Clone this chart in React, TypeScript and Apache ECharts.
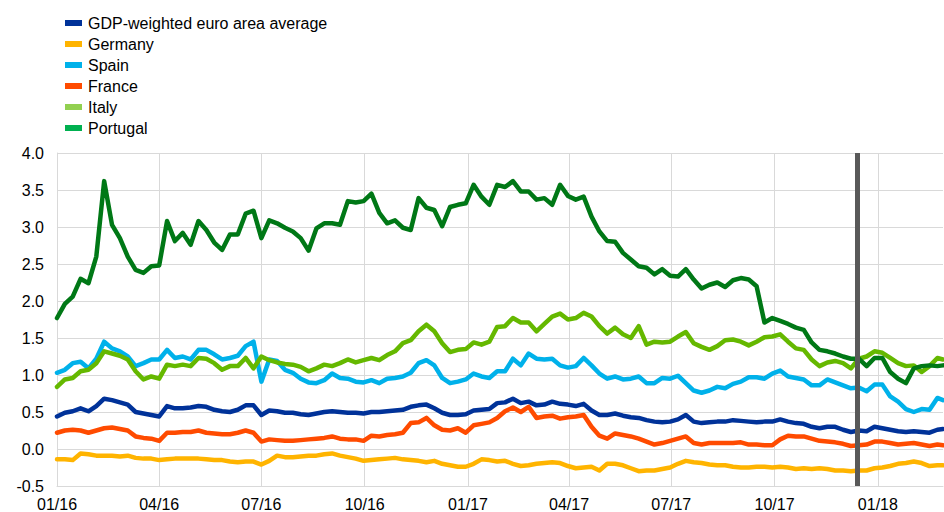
import { useEffect, useRef } from "react";
import * as echarts from "echarts";

// ---- data ----
const START = Date.UTC(2016, 0, 1);
const DAY = 86400000;
// weekly observation dates from 01/01/2016, plus the last observation
const dates: number[] = Array.from({ length: 113 }, (_, i) => START + i * 7 * DAY).concat([Date.UTC(2018, 1, 28)]);

const seriesNames = [
  "GDP-weighted euro area average",
  "Germany",
  "Spain",
  "France",
  "Italy",
  "Portugal",
];

const gdpWeighted = [
  0.44, 0.49, 0.51, 0.55, 0.51, 0.58, 0.68, 0.66, 0.63, 0.6, 0.5, 0.48, 0.46, 0.44, 0.58, 0.55, 0.55, 0.56, 0.58,
  0.57, 0.53, 0.51, 0.5, 0.53, 0.59, 0.59, 0.46, 0.52, 0.51, 0.49, 0.49, 0.47, 0.46, 0.48, 0.5, 0.51, 0.5, 0.49,
  0.49, 0.48, 0.5, 0.5, 0.51, 0.52, 0.53, 0.57, 0.59, 0.6, 0.55, 0.49, 0.46, 0.46, 0.47, 0.52, 0.53, 0.54, 0.62,
  0.63, 0.68, 0.62, 0.64, 0.59, 0.6, 0.64, 0.61, 0.6, 0.58, 0.61, 0.52, 0.46, 0.46, 0.48, 0.45, 0.43, 0.42, 0.39,
  0.37, 0.36, 0.37, 0.4, 0.46, 0.37, 0.35, 0.36, 0.37, 0.37, 0.39, 0.38, 0.37, 0.36, 0.37, 0.37, 0.4, 0.37, 0.35,
  0.34, 0.3, 0.28, 0.3, 0.3, 0.26, 0.23, 0.25, 0.24, 0.3, 0.28, 0.26, 0.24, 0.23, 0.24, 0.23, 0.22, 0.26, 0.27,
];

const germany = [
  -0.14, -0.14, -0.15, -0.06, -0.07, -0.09, -0.09, -0.09, -0.1, -0.09, -0.12, -0.13, -0.13, -0.15, -0.14, -0.13, -0.13, -0.13, -0.13,
  -0.14, -0.15, -0.15, -0.17, -0.18, -0.17, -0.17, -0.21, -0.16, -0.09, -0.11, -0.11, -0.1, -0.09, -0.09, -0.07, -0.06, -0.09, -0.11,
  -0.13, -0.16, -0.15, -0.14, -0.13, -0.12, -0.14, -0.15, -0.16, -0.18, -0.16, -0.2, -0.22, -0.24, -0.24, -0.2, -0.14, -0.15, -0.17,
  -0.16, -0.2, -0.23, -0.22, -0.2, -0.19, -0.18, -0.19, -0.23, -0.26, -0.25, -0.24, -0.29, -0.2, -0.2, -0.22, -0.26, -0.3, -0.29,
  -0.29, -0.27, -0.25, -0.2, -0.16, -0.18, -0.19, -0.21, -0.22, -0.22, -0.24, -0.25, -0.25, -0.24, -0.24, -0.25, -0.24, -0.25, -0.27,
  -0.26, -0.27, -0.26, -0.27, -0.29, -0.29, -0.3, -0.29, -0.29, -0.26, -0.25, -0.23, -0.2, -0.19, -0.17, -0.19, -0.23, -0.22, -0.22,
];

const spain = [
  1.03, 1.07, 1.16, 1.18, 1.09, 1.22, 1.45, 1.36, 1.32, 1.25, 1.12, 1.16, 1.21, 1.21, 1.34, 1.23, 1.25, 1.21, 1.34,
  1.34, 1.28, 1.21, 1.23, 1.26, 1.39, 1.45, 0.91, 1.21, 1.19, 1.07, 1.03, 0.95, 0.9, 0.89, 0.93, 1.02, 0.96, 0.95,
  0.91, 0.9, 0.93, 0.89, 0.95, 0.96, 0.98, 1.03, 1.16, 1.2, 1.13, 0.96, 0.89, 0.91, 0.94, 1.02, 0.98, 0.96, 1.05,
  1.05, 1.22, 1.13, 1.29, 1.22, 1.21, 1.22, 1.13, 1.1, 1.12, 1.23, 1.13, 1.02, 0.95, 0.98, 0.94, 0.95, 0.98, 0.89,
  0.89, 0.96, 0.95, 0.99, 0.89, 0.79, 0.76, 0.79, 0.84, 0.82, 0.88, 0.91, 0.97, 0.97, 0.95, 1.02, 1.06, 0.98, 0.96,
  0.94, 0.86, 0.86, 0.94, 0.9, 0.86, 0.82, 0.83, 0.78, 0.87, 0.87, 0.71, 0.64, 0.54, 0.5, 0.54, 0.53, 0.69, 0.66,
];

const france = [
  0.22, 0.25, 0.26, 0.25, 0.22, 0.25, 0.28, 0.29, 0.27, 0.25, 0.17, 0.15, 0.14, 0.11, 0.22, 0.22, 0.23, 0.23, 0.25,
  0.22, 0.21, 0.2, 0.2, 0.22, 0.25, 0.22, 0.1, 0.13, 0.12, 0.11, 0.11, 0.12, 0.13, 0.14, 0.15, 0.17, 0.14, 0.13,
  0.13, 0.11, 0.18, 0.17, 0.19, 0.2, 0.22, 0.35, 0.36, 0.42, 0.32, 0.26, 0.25, 0.28, 0.22, 0.32, 0.34, 0.36, 0.42,
  0.51, 0.56, 0.5, 0.57, 0.42, 0.44, 0.45, 0.41, 0.43, 0.44, 0.46, 0.3, 0.18, 0.14, 0.21, 0.19, 0.17, 0.14, 0.1,
  0.06, 0.08, 0.11, 0.14, 0.17, 0.08, 0.06, 0.08, 0.08, 0.08, 0.08, 0.09, 0.06, 0.06, 0.05, 0.05, 0.13, 0.18, 0.17,
  0.17, 0.14, 0.11, 0.1, 0.09, 0.07, 0.04, 0.05, 0.06, 0.1, 0.1, 0.08, 0.06, 0.07, 0.08, 0.06, 0.04, 0.06, 0.05,
];

const italy = [
  0.84, 0.94, 0.96, 1.05, 1.07, 1.16, 1.32, 1.29, 1.26, 1.21, 1.05, 0.94, 0.98, 0.95, 1.14, 1.12, 1.14, 1.12, 1.23,
  1.22, 1.16, 1.07, 1.12, 1.12, 1.23, 1.09, 1.25, 1.2, 1.17, 1.15, 1.14, 1.11, 1.05, 1.09, 1.14, 1.12, 1.16, 1.21,
  1.17, 1.2, 1.23, 1.2, 1.27, 1.32, 1.43, 1.47, 1.59, 1.68, 1.59, 1.43, 1.31, 1.34, 1.35, 1.44, 1.41, 1.45, 1.65,
  1.66, 1.77, 1.71, 1.71, 1.59, 1.69, 1.79, 1.83, 1.75, 1.77, 1.84, 1.79, 1.66, 1.56, 1.64, 1.55, 1.5, 1.66, 1.41,
  1.45, 1.44, 1.45, 1.52, 1.58, 1.43, 1.38, 1.34, 1.39, 1.47, 1.48, 1.45, 1.4, 1.45, 1.51, 1.52, 1.55, 1.45, 1.36,
  1.34, 1.21, 1.12, 1.17, 1.19, 1.16, 1.09, 1.22, 1.25, 1.32, 1.3, 1.23, 1.16, 1.12, 1.13, 1.04, 1.12, 1.23, 1.21,
];

const portugal = [
  1.77, 1.96, 2.06, 2.3, 2.24, 2.6, 3.62, 3.03, 2.85, 2.6, 2.42, 2.38, 2.47, 2.48, 3.08, 2.81, 2.92, 2.76, 3.08,
  2.96, 2.79, 2.69, 2.9, 2.9, 3.18, 3.22, 2.85, 3.09, 3.05, 2.99, 2.94, 2.85, 2.68, 2.98, 3.05, 3.05, 3.03, 3.35,
  3.33, 3.35, 3.45, 3.19, 3.05, 3.09, 2.99, 2.96, 3.39, 3.26, 3.23, 3.01, 3.27, 3.3, 3.32, 3.57, 3.41, 3.3, 3.57,
  3.54, 3.62, 3.48, 3.48, 3.37, 3.39, 3.3, 3.57, 3.42, 3.37, 3.41, 3.14, 2.94, 2.81, 2.8, 2.65, 2.56, 2.47, 2.45,
  2.36, 2.43, 2.34, 2.33, 2.43, 2.29, 2.17, 2.22, 2.25, 2.19, 2.28, 2.31, 2.29, 2.2, 1.71, 1.77, 1.73, 1.69, 1.64,
  1.61, 1.44, 1.34, 1.32, 1.29, 1.25, 1.22, 1.22, 1.12, 1.23, 1.23, 1.04, 0.95, 0.89, 1.09, 1.12, 1.13, 1.12, 1.13,
];

const quarterTicks = [
  Date.UTC(2016, 0, 1), Date.UTC(2016, 3, 1), Date.UTC(2016, 6, 1), Date.UTC(2016, 9, 1),
  Date.UTC(2017, 0, 1), Date.UTC(2017, 3, 1), Date.UTC(2017, 6, 1), Date.UTC(2017, 9, 1),
  Date.UTC(2018, 0, 1),
];
const markerDate = Date.UTC(2017, 11, 14);
const yTicks = [-0.5, 0.0, 0.5, 1.0, 1.5, 2.0, 2.5, 3.0, 3.5, 4.0];

const lineColors = ["#003299", "#FFB400", "#00B1EA", "#FF4B00", "#65B800", "#007816"];
const legendColors = ["#003299", "#FFB400", "#00B1EA", "#FF4B00", "#92D050", "#00B050"];

const FONT = "'Liberation Sans', Arial, sans-serif";

export default function App() {
  const ref = useRef<HTMLDivElement>(null);
  useEffect(() => {
    if (!ref.current) return;
    const chart = echarts.init(ref.current, undefined, { renderer: "svg" });
    const all = [gdpWeighted, germany, spain, france, italy, portugal];
    const fmt = (v: number) => {
      const d = new Date(v);
      const mm = String(d.getUTCMonth() + 1).padStart(2, "0");
      const yy = String(d.getUTCFullYear() % 100).padStart(2, "0");
      return mm + "/" + yy;
    };
    chart.setOption({
      animation: false,
      backgroundColor: "#ffffff",
      textStyle: { fontFamily: FONT },
      grid: { left: 57, right: 1, top: 153, bottom: 25, containLabel: false },
      legend: {
        orient: "vertical",
        left: 60,
        top: 10,
        icon: "rect",
        itemWidth: 17,
        itemHeight: 6,
        itemGap: 5,
        selectedMode: false,
        itemStyle: { borderWidth: 0 },
        textStyle: { fontFamily: FONT, fontSize: 16, color: "#000", lineHeight: 16, padding: [0, 0, 0, 1] },
        data: seriesNames.map((n, i) => ({ name: n, itemStyle: { color: legendColors[i], borderWidth: 0 } })),
      },
      xAxis: {
        type: "value",
        min: dates[0],
        max: dates[dates.length - 1],
        axisLine: { show: true, onZero: false, lineStyle: { color: "#d9d9d9", width: 1 } },
        axisTick: { show: false, customValues: quarterTicks },
        splitLine: { show: true, lineStyle: { color: "#d9d9d9", width: 1 } },
        axisLabel: {
          customValues: quarterTicks,
          formatter: (v: number) => fmt(v),
          fontFamily: FONT,
          fontSize: 16,
          color: "#000",
          margin: 10,
          hideOverlap: false,
        },
      },
      yAxis: {
        type: "value",
        min: yTicks[0],
        max: yTicks[yTicks.length - 1],
        interval: 0.5,
        axisLine: { show: true, lineStyle: { color: "#d9d9d9", width: 1 } },
        axisTick: { show: false },
        splitLine: { show: true, lineStyle: { color: "#d9d9d9", width: 1 } },
        axisLabel: {
          formatter: (v: number) => v.toFixed(1),
          fontFamily: FONT,
          fontSize: 16,
          color: "#000",
          margin: 13,
        },
      },
      series: all.map((vals, i) => ({
        type: "line",
        name: seriesNames[i],
        data: dates.map((d, j) => [d, vals[j]]),
        showSymbol: false,
        symbol: "none",
        lineStyle: { width: 4.5, color: lineColors[i], join: "round", cap: "round" },
        itemStyle: { color: lineColors[i] },
        z: 2 + i,
        markLine:
          i === all.length - 1
            ? {
                silent: true,
                symbol: ["none", "none"],
                label: { show: false },
                lineStyle: { color: "#595959", width: 5, type: "solid" },
                data: [{ xAxis: markerDate }],
                z: 20,
              }
            : undefined,
      })),
    });
    return () => chart.dispose();
  }, []);
  return (
    <div
      ref={ref}
      style={{ position: "fixed", left: 0, top: 0, width: 944, height: 512, background: "#fff" }}
    />
  );
}
